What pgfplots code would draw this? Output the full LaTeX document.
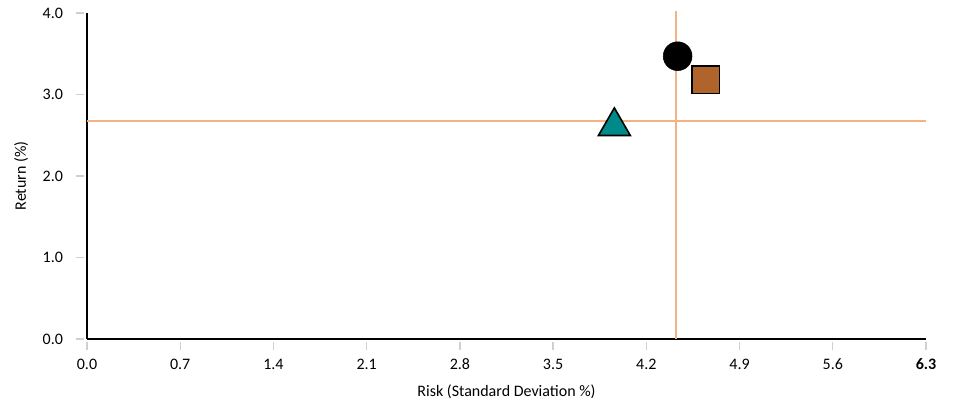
\documentclass[border=0pt]{standalone}
\usepackage{pgfplots}
\pgfplotsset{compat=1.18}
\usepackage{fontspec}
\setmainfont{Carlito}
\definecolor{peach}{HTML}{F4B183}
\definecolor{brownsq}{HTML}{B0632A}
\definecolor{tealtri}{HTML}{00898B}
\definecolor{tickgray}{HTML}{D0D0D0}
\begin{document}
\begin{tikzpicture}[x=0.75pt,y=0.75pt]
\path[use as bounding box] (-87,-74) rectangle (868,339);
\begin{axis}[
  at={(0,0)}, anchor=south west,
  scale only axis,
  width=629.25pt, height=244.5pt,
  xmin=0, xmax=6.3, ymin=0, ymax=4,
  axis x line=bottom, axis y line=left,
  axis line style={-, black, line width=1.5pt},
  xtick={0,0.7,1.4,2.1,2.8,3.5,4.2,4.9,5.6,6.3},
  xticklabels={0.0,0.7,1.4,2.1,2.8,3.5,4.2,4.9,5.6,\textbf{6.3}},
  ytick={0,1,2,3,4},
  yticklabels={0.0,1.0,2.0,3.0,4.0},
  tick align=outside,
  major tick length=6.5pt,
  xtick style={tickgray, line width=1pt, yshift=-2pt},
  ytick style={tickgray, line width=1pt, xshift=-2pt},
  ticklabel style={font=\fontsize{12}{14}\selectfont, text=black},
  xticklabel style={yshift=-5pt},
  yticklabel style={xshift=-8pt},
  xlabel={Risk (Standard Deviation \%)},
  ylabel={Return (\%)},
  label style={font=\fontsize{12}{14}\selectfont},
  xlabel style={yshift=-4pt},
  ylabel style={yshift=4pt},
  clip=false,
]
\addplot[only marks, mark=*, mark size=10.8pt, black] coordinates {(4.435,3.47)};
\addplot[only marks, mark=square*, mark size=10.3pt, mark options={fill=brownsq, draw=black, line width=1.2pt}] coordinates {(4.646,3.18)};
\addplot[only marks, mark=triangle*, mark size=13.8pt, mark options={fill=tealtri, draw=black, line width=1.2pt}] coordinates {(3.96,2.61)};
\addplot[draw=peach, line width=1.5pt] coordinates {(0,2.675) (6.3,2.675)};
\addplot[draw=peach, line width=1.5pt] coordinates {(4.42,0) (4.42,4.03)};
\end{axis}
\end{tikzpicture}
\end{document}
